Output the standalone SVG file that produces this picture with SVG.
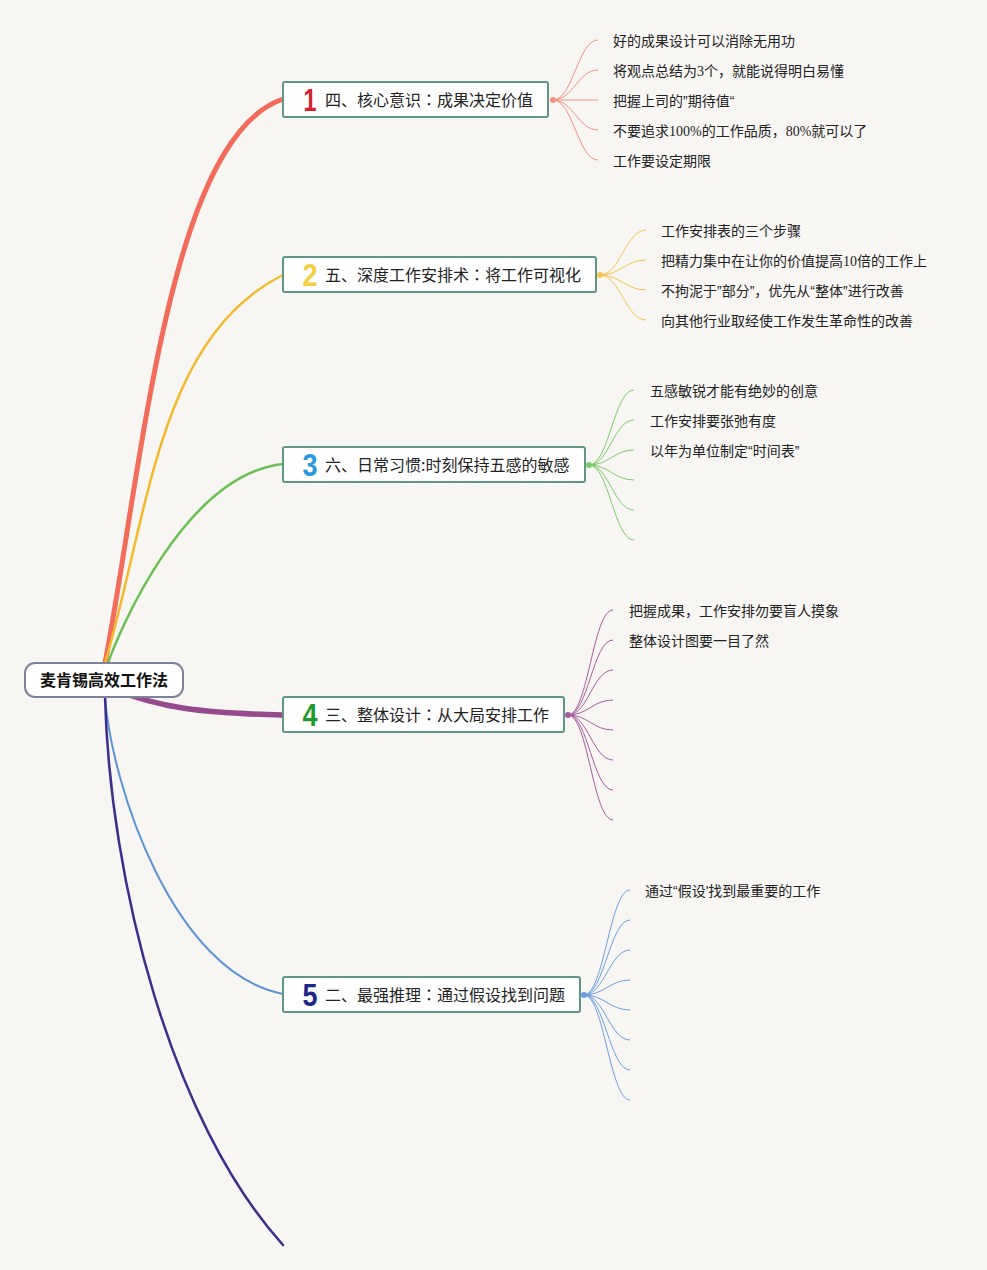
<svg xmlns="http://www.w3.org/2000/svg" width="987" height="1270" viewBox="0 0 987 1270">
<style>
.bg{fill:#f7f6f3}
.node rect{fill:#ffffff;stroke:#5f9786;stroke-width:2}
.root rect{fill:#ffffff;stroke:#7c8298;stroke-width:2}
.t{font-family:"Noto Sans CJK SC","Noto Sans",sans-serif;fill:#222}
.nt{font-size:16px}
.lt{font-size:14px}
.rt{font-size:16px;font-weight:bold;fill:#111}
.num{font-family:"Liberation Serif",serif}
.q{font-family:"Liberation Sans",Arial,sans-serif}
.col{font-family:"Noto Sans CJK TC","Noto Sans CJK SC",sans-serif}
.ic{font-family:"Liberation Sans",Arial,sans-serif;font-weight:bold;font-size:32px;text-anchor:middle}
.br{fill:none;stroke-linecap:round}
.lf{fill:none;stroke-width:1}
</style>
<rect class="bg" x="0" y="0" width="987" height="1270"/>
<g id="connectors">
  <path class="br" d="M105,663 C142,470 168,138 283,99" stroke="#f26b5b" stroke-width="5"/>
  <path class="br" d="M105,663 C149,514 158,337 283,275" stroke="#f5b82a" stroke-width="2.5"/>
  <path class="br" d="M108,663 C117,637 183,475 283,464" stroke="#6cbf52" stroke-width="2.5"/>
  <path class="br" d="M110,688 C160,708 200,713 283,715" stroke="#954a8c" stroke-width="5.5"/>
  <path class="br" d="M105,697 C112,788 174,973 283,994" stroke="#5a93d8" stroke-width="2"/>
  <path class="br" d="M105,697 C110,880 170,1120 283,1245" stroke="#3a2f8c" stroke-width="2.5"/>

  <g stroke="#f4907f" class="lf">
    <circle cx="553" cy="100" r="3" fill="#f4907f" stroke="none"/>
    <path d="M553,100 C573,100 578,40 598,40"/>
    <path d="M553,100 C573,100 578,70 598,70"/>
    <path d="M553,100 L598,100"/>
    <path d="M553,100 C573,100 578,130 598,130"/>
    <path d="M553,100 C573,100 578,160 598,160"/>
  </g>
  <g stroke="#f5c24d" class="lf">
    <circle cx="600" cy="275" r="3" fill="#f5c24d" stroke="none"/>
    <path d="M600,275 C620,275 626,230 646,230"/>
    <path d="M600,275 C620,275 626,260 646,260"/>
    <path d="M600,275 C620,275 626,290 646,290"/>
    <path d="M600,275 C620,275 626,320 646,320"/>
  </g>
  <g stroke="#7cc86a" class="lf">
    <circle cx="589" cy="465" r="3" fill="#7cc86a" stroke="none"/>
    <path d="M589,465 C609,465 614,390 634,390"/>
    <path d="M589,465 C609,465 614,420 634,420"/>
    <path d="M589,465 C609,465 614,450 634,450"/>
    <path d="M589,465 C609,465 614,480 634,480"/>
    <path d="M589,465 C609,465 614,510 634,510"/>
    <path d="M589,465 C609,465 614,540 634,540"/>
  </g>
  <g stroke="#a45c9c" class="lf">
    <circle cx="568" cy="715" r="3" fill="#a45c9c" stroke="none"/>
    <path d="M568,715 C588,715 593,610 613,610"/>
    <path d="M568,715 C588,715 593,640 613,640"/>
    <path d="M568,715 C588,715 593,670 613,670"/>
    <path d="M568,715 C588,715 593,700 613,700"/>
    <path d="M568,715 C588,715 593,730 613,730"/>
    <path d="M568,715 C588,715 593,760 613,760"/>
    <path d="M568,715 C588,715 593,790 613,790"/>
    <path d="M568,715 C588,715 593,820 613,820"/>
  </g>
  <g stroke="#6a9edd" class="lf">
    <circle cx="584" cy="995" r="3" fill="#6a9edd" stroke="none"/>
    <path d="M584,995 C604,995 610,890 630,890"/>
    <path d="M584,995 C604,995 610,920 630,920"/>
    <path d="M584,995 C604,995 610,950 630,950"/>
    <path d="M584,995 C604,995 610,980 630,980"/>
    <path d="M584,995 C604,995 610,1010 630,1010"/>
    <path d="M584,995 C604,995 610,1040 630,1040"/>
    <path d="M584,995 C604,995 610,1070 630,1070"/>
    <path d="M584,995 C604,995 610,1100 630,1100"/>
  </g>
</g>

<g id="root" class="root">
  <rect x="25" y="663" width="158" height="34" rx="10"/>
  <text class="t rt" x="104" y="686" text-anchor="middle">麦肯锡高效工作法</text>
</g>

<g id="n1" class="node">
  <rect x="283" y="82" width="265" height="35" rx="2"/>
  <text class="ic" x="310" y="111" fill="#d81f2c" textLength="13" lengthAdjust="spacingAndGlyphs">1</text>
  <text class="t nt" x="325" y="106">四、核心意识<tspan class="col">：</tspan>成果决定价值</text>
</g>
<g id="n2" class="node">
  <rect x="283" y="257" width="313" height="35" rx="2"/>
  <text class="ic" x="310" y="286" fill="#f2cf3c" textLength="15" lengthAdjust="spacingAndGlyphs">2</text>
  <text class="t nt" x="325" y="281">五、深度工作安排术<tspan class="col">：</tspan>将工作可视化</text>
</g>
<g id="n3" class="node">
  <rect x="283" y="447" width="302" height="35" rx="2"/>
  <text class="ic" x="310" y="476" fill="#2a98df" textLength="15" lengthAdjust="spacingAndGlyphs">3</text>
  <text class="t nt" x="325" y="471">六、日常习惯:时刻保持五感的敏感</text>
</g>
<g id="n4" class="node">
  <rect x="283" y="697" width="281" height="35" rx="2"/>
  <text class="ic" x="310" y="726" fill="#1e9a2c" textLength="15" lengthAdjust="spacingAndGlyphs">4</text>
  <text class="t nt" x="325" y="721">三、整体设计<tspan class="col">：</tspan>从大局安排工作</text>
</g>
<g id="n5" class="node">
  <rect x="283" y="977" width="297" height="35" rx="2"/>
  <text class="ic" x="310" y="1006" fill="#1d2785" textLength="15" lengthAdjust="spacingAndGlyphs">5</text>
  <text class="t nt" x="325" y="1001">二、最强推理<tspan class="col">：</tspan>通过假设找到问题</text>
</g>

<g id="leaves1">
  <text class="t lt" x="613" y="46">好的成果设计可以消除无用功</text>
  <text class="t lt" x="613" y="76">将观点总结为<tspan class="num">3</tspan>个，就能说得明白易懂</text>
  <text class="t lt" x="613" y="106">把握上司的<tspan class="q">”</tspan>期待值<tspan class="q">“</tspan></text>
  <text class="t lt" x="613" y="136">不要追求<tspan class="num">100%</tspan>的工作品质，<tspan class="num">80%</tspan>就可以了</text>
  <text class="t lt" x="613" y="166">工作要设定期限</text>
</g>
<g id="leaves2">
  <text class="t lt" x="661" y="236">工作安排表的三个步骤</text>
  <text class="t lt" x="661" y="266">把精力集中在让你的价值提高<tspan class="num">10</tspan>倍的工作上</text>
  <text class="t lt" x="661" y="296">不拘泥于<tspan class="q">”</tspan>部分<tspan class="q">”</tspan>，优先从<tspan class="q">“</tspan>整体<tspan class="q">”</tspan>进行改善</text>
  <text class="t lt" x="661" y="326">向其他行业取经使工作发生革命性的改善</text>
</g>
<g id="leaves3">
  <text class="t lt" x="650" y="396">五感敏锐才能有绝妙的创意</text>
  <text class="t lt" x="650" y="426">工作安排要张弛有度</text>
  <text class="t lt" x="650" y="456">以年为单位制定<tspan class="q">“</tspan>时间表<tspan class="q">”</tspan></text>
</g>
<g id="leaves4">
  <text class="t lt" x="629" y="616">把握成果，工作安排勿要盲人摸象</text>
  <text class="t lt" x="629" y="646">整体设计图要一目了然</text>
</g>
<g id="leaves5">
  <text class="t lt" x="645" y="896">通过<tspan class="q">“</tspan>假设<tspan class="q">'</tspan>找到最重要的工作</text>
</g>
</svg>
